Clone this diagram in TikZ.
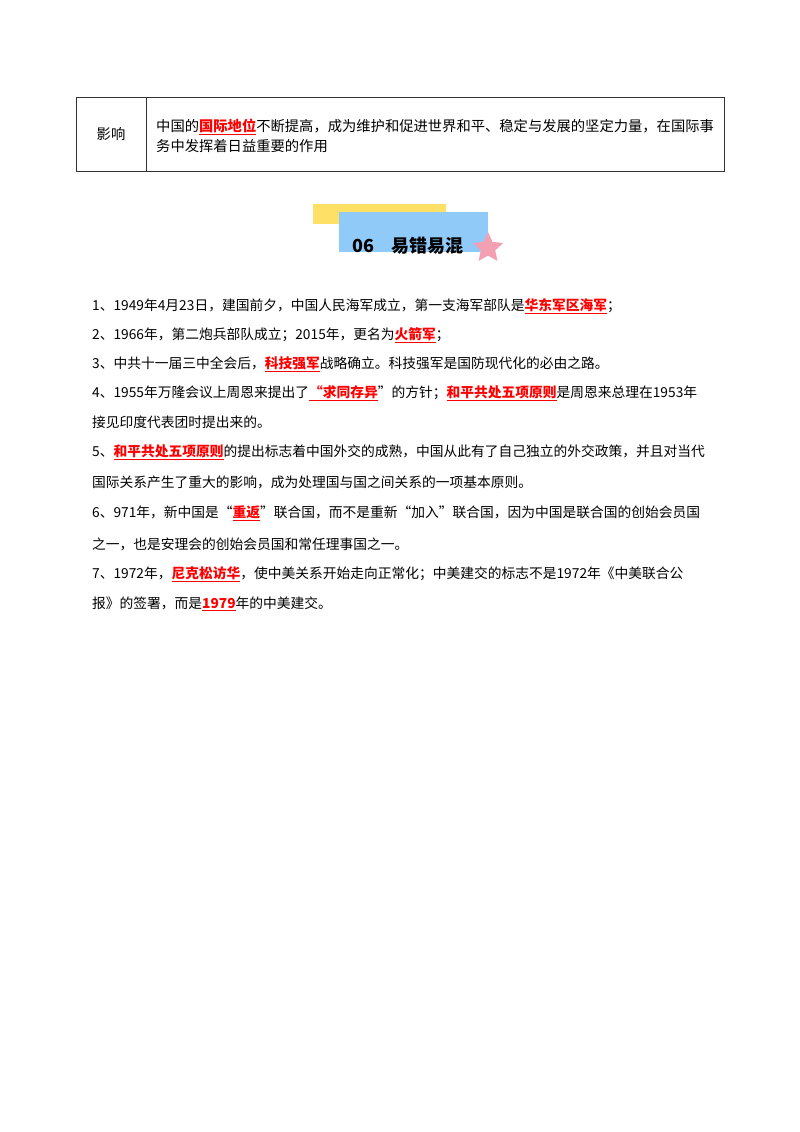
\documentclass[tikz,border=0pt]{standalone}
\usepackage{fontspec}
\setmainfont{Noto Sans CJK SC}
\usetikzlibrary{shapes.geometric}
\definecolor{ttyel}{RGB}{255,224,102}
\definecolor{ttblue}{RGB}{144,202,249}
\definecolor{ttpink}{RGB}{244,160,180}
\newcommand{\hl}[1]{{\color{red}\bfseries\underline{#1}}}
\begin{document}
\begin{tikzpicture}[x=1pt,y=-1pt,
  ln/.style={anchor=west,inner sep=0pt,font=\fontsize{13.75}{15}\selectfont},
  tx/.style={anchor=west,inner sep=0pt,font=\fontsize{14.3}{15}\selectfont}]
\useasboundingbox[fill=white] (0,0) rectangle (800,1132);
% table
\draw[line width=0.9pt,draw=black!80] (76,97) rectangle (724,171);
\draw[line width=0.9pt,draw=black!80] (146,97) -- (146,171);
\node[tx,anchor=center] (k) at (111,134) {影响};
\node[tx] (v1) at (156,127) {中国的\hl{国际地位}不断提高，成为维护和促进世界和平、稳定与发展的坚定力量，在国际事};
\node[tx] (v2) at (156,146) {务中发挥着日益重要的作用};
% title
\fill[ttyel] (313,204) rectangle (446,224);
\fill[ttblue] (339,212) rectangle (488,252);
\node[inner sep=0pt,font=\fontsize{18}{20}\selectfont\bfseries] (t) at (408,246) {06\hspace{18pt}易错易混};
\node[star,star points=5,star point ratio=2.1,fill=ttpink,minimum size=32pt,inner sep=0pt] (s) at (488,248) {};
% lines
\node[ln] (l1) at (92,306) {1、1949年4月23日，建国前夕，中国人民海军成立，第一支海军部队是\hl{华东军区海军}；};
\node[ln] (l2) at (92,335) {2、1966年，第二炮兵部队成立；2015年，更名为\hl{火箭军}；};
\node[ln] (l3) at (92,364) {3、中共十一届三中全会后，\hl{科技强军}战略确立。科技强军是国防现代化的必由之路。};
\node[ln] (l4) at (92,393) {4、1955年万隆会议上周恩来提出了\hl{“求同存异}”的方针；\hl{和平共处五项原则}是周恩来总理在1953年};
\node[ln] (l4b) at (92,422) {接见印度代表团时提出来的。};
\node[ln] (l5) at (92,452) {5、\hl{和平共处五项原则}的提出标志着中国外交的成熟，中国从此有了自己独立的外交政策，并且对当代};
\node[ln] (l5b) at (92,482) {国际关系产生了重大的影响，成为处理国与国之间关系的一项基本原则。};
\node[ln] (l6) at (92,513) {6、971年，新中国是“\hl{重返}”联合国，而不是重新“加入”联合国，因为中国是联合国的创始会员国};
\node[ln] (l6b) at (92,544) {之一，也是安理会的创始会员国和常任理事国之一。};
\node[ln] (l7) at (92,574) {7、1972年，\hl{尼克松访华}，使中美关系开始走向正常化；中美建交的标志不是1972年《中美联合公};
\node[ln] (l7b) at (92,604) {报》的签署，而是\hl{1979}年的中美建交。};
\end{tikzpicture}
\end{document}
